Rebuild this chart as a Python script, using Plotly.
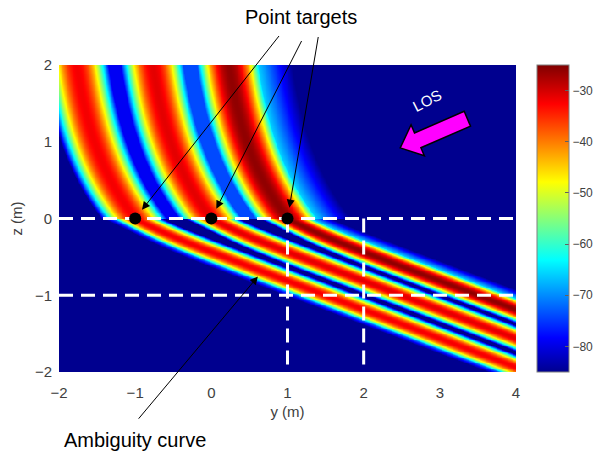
import numpy as np
import plotly.graph_objects as go

# ---- scene description -------------------------------------------------
TARGET_Y = [-1.0, 0.0, 1.0]          # point targets, horizontal position (m)
TARGET_Z = [0.0, 0.0, 0.0]           # point targets, height (m)
PEAK_DB = [-32.0, -31.0, -26.0]      # peak response of each target (dB)
DB_RANGE = [-85, -25]                # colour limits (dB)

Y_TICKS = [-2, -1, 0, 1, 2, 3, 4]
Z_TICKS = [-2, -1, 0, 1, 2]
CBAR_TICKS = [-80, -70, -60, -50, -40, -30]

GUIDE_Z = [0, -1]                    # horizontal reference lines (m)
GUIDE_Y = [1, 2]                     # vertical reference lines (m)

# ambiguity-curve geometry
UPPER_BEND = 0.95      # lateral drift of the branch above the ground (m)
UPPER_SCALE = 1.2      # height scale of that drift (m)
LOWER_SLOPE = 0.375    # slope of the branch below the ground
LOWER_KINK = 0.06      # extra bend of the lower branch near the target
UPPER_PERIOD = 1.0     # fringe period above ground (horizontal, m)
LOWER_PERIOD = 0.38    # fringe period below ground (vertical, m)

# fringe shape
LOBE_CURV = 270.0      # dB per (fringe period)^2 around each peak
UPPER_FLOOR = 48.0     # deepest drop between neighbouring curves above ground
LOWER_FLOOR = 60.0     # same below ground
OUTER_KNEE = 40.0      # where the outer flanks switch to a slow fade
OUTER_END = 60.0

# ---- simulated response ------------------------------------------------
yy = np.linspace(-2, 4, 541)
zz = np.linspace(-2, 2, 361)
Y, Z = np.meshgrid(yy, zz)


def upper_shift(z):
    return -UPPER_BEND * (1.0 - np.exp(-np.clip(z, 0, None) / UPPER_SCALE))


def lower_drop(d):
    return LOWER_SLOPE * d + LOWER_KINK * np.tanh(2.0 * d)


def inner(t, floor):
    # floor only holds in the gap up to the neighbouring curve
    return np.where(np.abs(t) <= 0.6, np.minimum(LOBE_CURV * t ** 2, floor), 100.0)


def outer(t, tail):
    a = np.abs(t)
    tk = np.sqrt(OUTER_KNEE / LOBE_CURV)
    lin = OUTER_KNEE + (OUTER_END - OUTER_KNEE) * (a - tk) / (tail - tk)
    return np.where(a <= tk, LOBE_CURV * a ** 2, lin)


field = np.full(Y.shape, -200.0)
order = np.argsort(TARGET_Y)
first, last = order[0], order[-1]
above = Z > 0
for i, (ty, tz, pk) in enumerate(zip(TARGET_Y, TARGET_Z, PEAK_DB)):
    v = (Y - ty - upper_shift(Z - tz)) / UPPER_PERIOD
    u = (Z - tz + lower_drop(Y - ty)) / LOWER_PERIOD
    d_up = inner(v, UPPER_FLOOR)
    d_lo = inner(u, LOWER_FLOOR)
    # outermost curves fade out on their outer flanks
    if i == last:
        d_up = np.where(v > 0, outer(v, 0.85), d_up)
        d_lo = np.where(u > 0, outer(u, 0.70), d_lo)
    if i == first:
        d_up = np.where(v < 0, LOBE_CURV * v ** 2, d_up)
        d_lo = np.where(u < 0, outer(u, 0.60), d_lo)
    resp = np.where(above, pk - d_up, pk - d_lo)
    field = np.maximum(field, resp)

field = np.clip(field, DB_RANGE[0], DB_RANGE[1]).round(1)

jet = [
    [0.0, "rgb(0,0,143)"],
    [0.111, "rgb(0,0,255)"],
    [0.365, "rgb(0,255,255)"],
    [0.619, "rgb(255,255,0)"],
    [0.873, "rgb(255,0,0)"],
    [1.0, "rgb(128,0,0)"],
]

FONT = "Liberation Sans, Arial, sans-serif"
GREY = "#404040"

fig = go.Figure()
fig.add_trace(go.Heatmap(
    x=yy, y=zz, z=field, colorscale=jet, zmin=DB_RANGE[0], zmax=DB_RANGE[1],
    zsmooth="best", hoverinfo="skip",
    colorbar=dict(
        x=1.046, xanchor="left", y=0.5, yanchor="middle", len=1.0,
        lenmode="fraction", thickness=32, xpad=0, ypad=0,
        outlinewidth=1, outlinecolor="#808080",
        tickvals=CBAR_TICKS, ticks="inside", ticklen=4, tickcolor="#606060",
        tickfont=dict(family=FONT, size=12, color=GREY),
    ),
))

# dashed reference lines
for zg in GUIDE_Z:
    fig.add_trace(go.Scatter(x=[Y_TICKS[0], Y_TICKS[-1]], y=[zg, zg], mode="lines",
                             line=dict(color="white", width=3, dash="14px,8px"),
                             hoverinfo="skip", showlegend=False))
for yg in GUIDE_Y:
    fig.add_trace(go.Scatter(x=[yg, yg], y=[GUIDE_Z[0], Z_TICKS[0]], mode="lines",
                             line=dict(color="white", width=3, dash="14px,8px"),
                             hoverinfo="skip", showlegend=False))

# point targets
fig.add_trace(go.Scatter(x=TARGET_Y, y=TARGET_Z, mode="markers",
                         marker=dict(color="black", size=12),
                         hoverinfo="skip", showlegend=False))

# line-of-sight arrow (filled outline)
LOS_TIP = np.array([2.48, 0.92])
LOS_DIR = np.array([0.918, 0.396])
LOS_LEN, LOS_HEAD, LOS_SHAFT, LOS_WING = 0.96, 0.25, 0.105, 0.22
nrm = np.array([-LOS_DIR[1], LOS_DIR[0]])
pts = [
    LOS_TIP,
    LOS_TIP + LOS_HEAD * LOS_DIR + LOS_WING * nrm,
    LOS_TIP + LOS_HEAD * LOS_DIR + LOS_SHAFT * nrm,
    LOS_TIP + LOS_LEN * LOS_DIR + LOS_SHAFT * nrm,
    LOS_TIP + LOS_LEN * LOS_DIR - LOS_SHAFT * nrm,
    LOS_TIP + LOS_HEAD * LOS_DIR - LOS_SHAFT * nrm,
    LOS_TIP + LOS_HEAD * LOS_DIR - LOS_WING * nrm,
]
path = "M " + " L ".join(f"{p[0]:.4f},{p[1]:.4f}" for p in pts) + " Z"
fig.add_shape(type="path", path=path, xref="x", yref="y",
              fillcolor="#ff00ff", line=dict(color="black", width=1.5))

annotations = [
    dict(x=2.83, y=1.54, xref="x", yref="y", text="LOS", showarrow=False,
         textangle=-27, font=dict(family=FONT, size=15, color="white")),
    dict(x=0.5295, y=1.156, xref="paper", yref="paper", text="Point targets",
         xanchor="center", yanchor="middle",
         showarrow=False, font=dict(family=FONT, size=20, color="black")),
    dict(x=0.166, y=-0.221, xref="paper", yref="paper", text="Ambiguity curve",
         xanchor="center", yanchor="middle",
         showarrow=False, font=dict(family=FONT, size=20, color="black")),
]
# arrows from the label to each target
TAIL_OFFSETS = [(145, -184), (91, -179), (31, -183)]
for ty, tz, (ax, ay) in zip(TARGET_Y, TARGET_Z, TAIL_OFFSETS):
    annotations.append(dict(x=ty, y=tz, xref="x", yref="y", ax=ax, ay=ay,
                            text="", showarrow=True, arrowhead=2, arrowsize=1.6,
                            arrowwidth=1, arrowcolor="black", standoff=11))
# arrow to the lower branch of the first target
amb_y = 0.67
amb_z = TARGET_Z[first] - lower_drop(amb_y - TARGET_Y[first])
annotations.append(dict(x=amb_y, y=amb_z, xref="x", yref="y", ax=-125, ay=149,
                        text="", showarrow=True, arrowhead=2, arrowsize=1.6,
                        arrowwidth=1, arrowcolor="black", standoff=7))

fig.update_layout(
    width=598, height=455,
    margin=dict(l=59, r=82, t=65, b=83, autoexpand=False),
    paper_bgcolor="white", plot_bgcolor="white",
    font=dict(family=FONT, color=GREY),
    showlegend=False,
    annotations=annotations,
    xaxis=dict(range=[-2, 4], tickvals=Y_TICKS, showgrid=False, zeroline=False,
               ticks="", ticklabelstandoff=10, tickfont=dict(size=15, color=GREY),
               title=dict(text="y (m)", font=dict(size=15, color=GREY), standoff=6),
               automargin=False),
    yaxis=dict(range=[-2, 2], tickvals=Z_TICKS, showgrid=False, zeroline=False,
               ticks="", ticklabelstandoff=6, tickfont=dict(size=15, color=GREY),
               title=dict(text="z (m)", font=dict(size=15, color=GREY), standoff=8),
               automargin=False),
)

fig.write_html("out.html")
